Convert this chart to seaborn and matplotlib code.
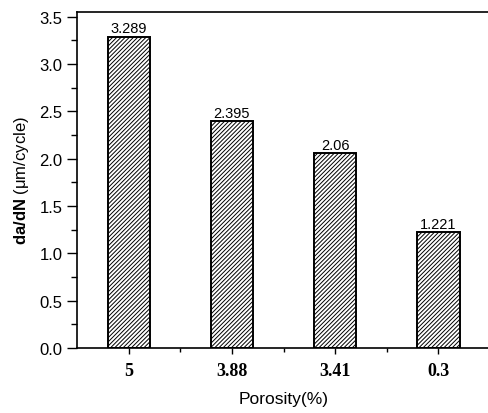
import matplotlib
matplotlib.use("Agg")
import matplotlib.pyplot as plt
from matplotlib.ticker import MultipleLocator, FixedLocator
import seaborn as sns
import pandas as pd

# Data
porosity = ["5", "3.88", "3.41", "0.3"]
rate = [3.289, 2.395, 2.06, 1.221]
rate_labels = ["3.289", "2.395", "2.06", "1.221"]

sns.set_style("ticks")
plt.rcParams["font.family"] = ["Liberation Sans", "DejaVu Sans"]
plt.rcParams["mathtext.fontset"] = "custom"
plt.rcParams["mathtext.rm"] = "Liberation Sans"
plt.rcParams["mathtext.bf"] = "Liberation Sans:bold"
plt.rcParams["hatch.linewidth"] = 0.7
for key in ["text.color", "axes.labelcolor", "xtick.color", "ytick.color", "axes.edgecolor"]:
    plt.rcParams[key] = "black"

df = pd.DataFrame({"porosity": porosity, "rate": rate})

fig = plt.figure(figsize=(4.88, 4.14), dpi=100)
ax = fig.add_axes([0.158, 0.157, 0.846, 0.812])

sns.barplot(data=df, x="porosity", y="rate", order=porosity, color="white",
            edgecolor="black", linewidth=1.4, width=0.41, ax=ax)
for p in ax.patches:
    p.set_hatch("////////")
    p.set_facecolor("white")

ax.bar_label(ax.containers[0], labels=rate_labels, padding=1, fontsize=10.5)

ax.set_xlim(-0.5, 3.5)
ax.set_ylim(0, 3.55)
ax.yaxis.set_major_locator(MultipleLocator(0.5))
ax.yaxis.set_minor_locator(MultipleLocator(0.25))
ax.xaxis.set_minor_locator(FixedLocator([0.5, 1.5, 2.5]))
ax.tick_params(axis="y", which="major", direction="out", length=7, width=1, labelsize=12)
ax.tick_params(axis="y", which="minor", direction="out", length=4, width=1)
ax.tick_params(axis="x", which="major", direction="out", length=4, width=1, pad=6)
ax.tick_params(axis="x", which="minor", direction="out", length=3, width=1)
for lbl in ax.get_xticklabels():
    lbl.set_fontfamily("Liberation Serif")
    lbl.set_fontweight("bold")
    lbl.set_fontsize(13)

for side in ["left", "top", "bottom"]:
    ax.spines[side].set_visible(True)
    ax.spines[side].set_linewidth(1.2)
ax.spines["right"].set_visible(False)

ax.set_xlabel("Porosity(%)", fontsize=12.5, labelpad=9)
ax.set_ylabel(r"$\mathbf{da/dN}$ (μm/cycle)", fontsize=12, labelpad=6)

fig.savefig("out.png", dpi=100)
plt.close(fig)
